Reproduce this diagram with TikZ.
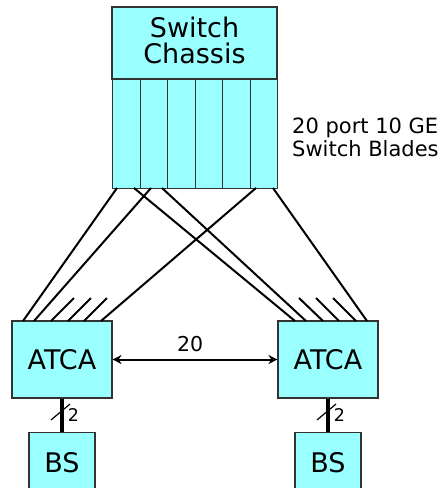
\documentclass[tikz,border=0pt]{standalone}
\usepackage{fontspec}
\setmainfont{DejaVu Sans}
\usetikzlibrary{arrows.meta, positioning}
\definecolor{bladecyan}{RGB}{153,255,255}

\begin{document}
\begin{tikzpicture}[
    x=1pt, y=-1pt,
    every node/.style={font=\fontsize{20.5}{23}\selectfont},
    box/.style={rectangle, draw=black!80, fill=bladecyan, line width=1.1pt, inner sep=0pt},
    blade/.style={box, minimum width=27.5pt, minimum height=109pt},
    bigtext/.style={font=\fontsize{27}{26}\selectfont},
    small/.style={font=\fontsize{17.5}{17.5}\selectfont, inner sep=0pt},
    link/.style={line width=2pt},
    trunk/.style={line width=4pt},
    arrow/.style={{Stealth[length=9pt,width=9pt]}-{Stealth[length=9pt,width=9pt]}, line width=2pt}
]
\useasboundingbox (0,0) rectangle (445,488);

% Switch chassis
\node (chassis) [box, minimum width=165pt, minimum height=72pt] at (194.5,43) {};
\node (title) [bigtext, align=center] at (194.5,40) {Switch\\Chassis};

% Blades
\foreach \i in {1,...,6}
    \node (blade\i) [blade, anchor=north west] at ({112+27.5*(\i-1)},79) {};

\node (bladelabel) [anchor=west, align=left, inner sep=0pt, font=\fontsize{21}{23}\selectfont]
    at (292,137) {20 port 10 GE\\Switch Blades};

% ATCA shelves
\node (atcaL) [box, bigtext, minimum width=100pt, minimum height=77pt] at (62,359.5) {ATCA};
\node (atcaR) [box, bigtext, minimum width=100pt, minimum height=77pt] at (328,359.5) {ATCA};

% Base stations
\node (bsL) [box, bigtext, minimum width=66pt, minimum height=62pt, below=33pt of atcaL] {BS};
\node (bsR) [box, bigtext, minimum width=66pt, minimum height=62pt, below=33pt of atcaR] {BS};

% Blade ports
\coordinate (b1a) at (117,188);
\coordinate (b1b) at (134,188);
\coordinate (b2a) at (151,188);
\coordinate (b2b) at (162,188);
\coordinate (b6a) at (256,188);
\coordinate (b6b) at (273,188);

% ATCA ports
\foreach \x [count=\i] in {23,34,51,68,84,101}
    \coordinate (pL\i) at (\x,321);
\foreach \x [count=\i] in {295,306,323,339,356,367}
    \coordinate (pR\i) at (\x,321);
\foreach \x [count=\i] in {74,91,107}
    \coordinate (tL\i) at (\x,298);
\foreach \x [count=\i] in {299,316,333}
    \coordinate (tR\i) at (\x,298);

% Links
\draw [link] (b1a) -- (pL1);
\draw [link] (b2a) -- (pL2);
\draw [link] (b6a) -- (pL6);
\draw [link] (b1b) -- (pR1);
\draw [link] (b2b) -- (pR2);
\draw [link] (b6b) -- (pR6);

\draw [link] (pL3) -- (tL1);
\draw [link] (pL4) -- (tL2);
\draw [link] (pL5) -- (tL3);
\draw [link] (pR3) -- (tR1);
\draw [link] (pR4) -- (tR2);
\draw [link] (pR5) -- (tR3);

\draw [arrow] (atcaL) -- (atcaR) node (count) [pos=0.47, above, yshift=3pt] {20};

\draw [trunk] (atcaL) -- (bsL);
\draw [trunk] (atcaR) -- (bsR);
\draw [line width=1.2pt] (51,420) -- (70,404);
\draw [line width=1.2pt] (317,420) -- (336,404);
\node (nL) [small] at (73.5,415.5) {2};
\node (nR) [small] at (339.5,415.5) {2};

\end{tikzpicture}
\end{document}
